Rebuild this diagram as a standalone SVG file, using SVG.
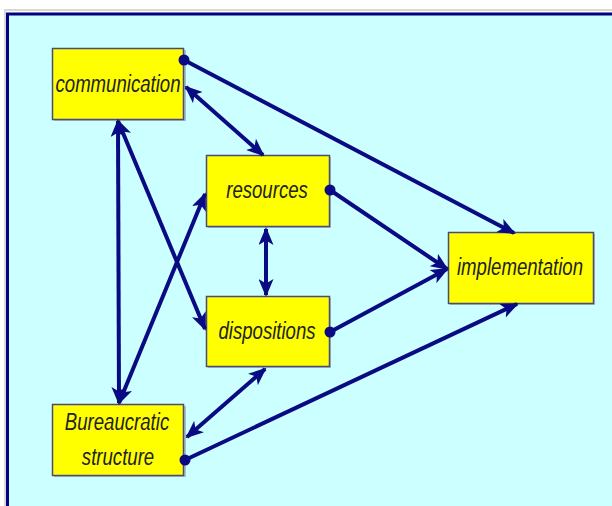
<svg xmlns="http://www.w3.org/2000/svg" width="612" height="506" viewBox="0 0 612 506">
  <style>
    .node rect.box { fill: #FFFF00; stroke: #4a4a78; stroke-width: 1.5; }
    .node rect.shadow { fill: #8a8aa8; opacity: 0.55; }
    .node text { font-family: "Liberation Sans", Arial, sans-serif; font-style: italic; font-size: 18.6px; fill: #222222; text-anchor: middle; }
    .conn line { stroke: #0a0a82; stroke-width: 4; fill: none; }
  </style>
  <defs>
    <marker id="arrow" viewBox="0 0 18 15" refX="16" refY="7.5" markerWidth="18" markerHeight="15" markerUnits="userSpaceOnUse" orient="auto-start-reverse">
      <path d="M0,0 L18,7.5 L0,15 L4.5,7.5 Z" fill="#0a0a82"/>
    </marker>
    <marker id="dot" viewBox="0 0 12 12" refX="6" refY="6" markerWidth="12" markerHeight="12" markerUnits="userSpaceOnUse">
      <circle cx="6" cy="6" r="5.5" fill="#0a0a82"/>
    </marker>
  </defs>
  <rect x="0" y="0" width="612" height="506" fill="#ffffff"/>
  <rect x="5" y="10" width="640" height="520" fill="none" stroke="#d8d8d8" stroke-width="2"/>
  <rect x="7.5" y="14" width="640" height="520" fill="#CCFFFF" stroke="#000080" stroke-width="3"/>

  <g id="communication" class="node">
    <rect class="shadow" x="54" y="50" width="132" height="71"/>
    <rect class="box" x="52.5" y="48.5" width="131" height="71"/>
    <text transform="translate(118,92) scale(1,1.32)">communication</text>
  </g>
  <g id="resources" class="node">
    <rect class="shadow" x="208" y="157" width="123" height="71"/>
    <rect class="box" x="206.5" y="155.5" width="123" height="71"/>
    <text transform="translate(267,198) scale(1,1.32)">resources</text>
  </g>
  <g id="dispositions" class="node">
    <rect class="shadow" x="208" y="298" width="123" height="70"/>
    <rect class="box" x="206.5" y="296.5" width="123" height="70"/>
    <text transform="translate(267,339) scale(1,1.32)">dispositions</text>
  </g>
  <g id="implementation" class="node">
    <rect class="shadow" x="450" y="234" width="145" height="71"/>
    <rect class="box" x="448.5" y="232.5" width="145" height="71"/>
    <text transform="translate(520,275) scale(1,1.32)">implementation</text>
  </g>
  <g id="bureaucratic-structure" class="node">
    <rect class="shadow" x="54" y="406" width="132" height="71"/>
    <rect class="box" x="52.5" y="404.5" width="131" height="71"/>
    <text transform="translate(117,430) scale(1,1.32)">Bureaucratic</text>
    <text transform="translate(118,465) scale(1,1.32)">structure</text>
  </g>

  <g id="connectors" class="conn">
    <line x1="184" y1="60" x2="514" y2="233" marker-start="url(#dot)" marker-end="url(#arrow)"/>
    <line x1="186" y1="87" x2="263" y2="155" marker-start="url(#arrow)" marker-end="url(#arrow)"/>
    <line x1="330" y1="190" x2="447" y2="269" marker-start="url(#dot)" marker-end="url(#arrow)"/>
    <line x1="330" y1="332" x2="447" y2="269" marker-start="url(#dot)" marker-end="url(#arrow)"/>
    <line x1="266" y1="229" x2="266" y2="295" marker-start="url(#arrow)" marker-end="url(#arrow)"/>
    <line x1="185" y1="460" x2="517" y2="304" marker-start="url(#dot)" marker-end="url(#arrow)"/>
    <line x1="187" y1="437" x2="265" y2="369" marker-start="url(#arrow)" marker-end="url(#arrow)"/>
    <line x1="118" y1="121" x2="119" y2="403" marker-start="url(#arrow)" marker-end="url(#arrow)"/>
    <line x1="118" y1="121" x2="205" y2="329" marker-start="url(#arrow)" marker-end="url(#arrow)"/>
    <line x1="119" y1="403" x2="205" y2="194" marker-start="url(#arrow)" marker-end="url(#arrow)"/>
  </g>
</svg>
